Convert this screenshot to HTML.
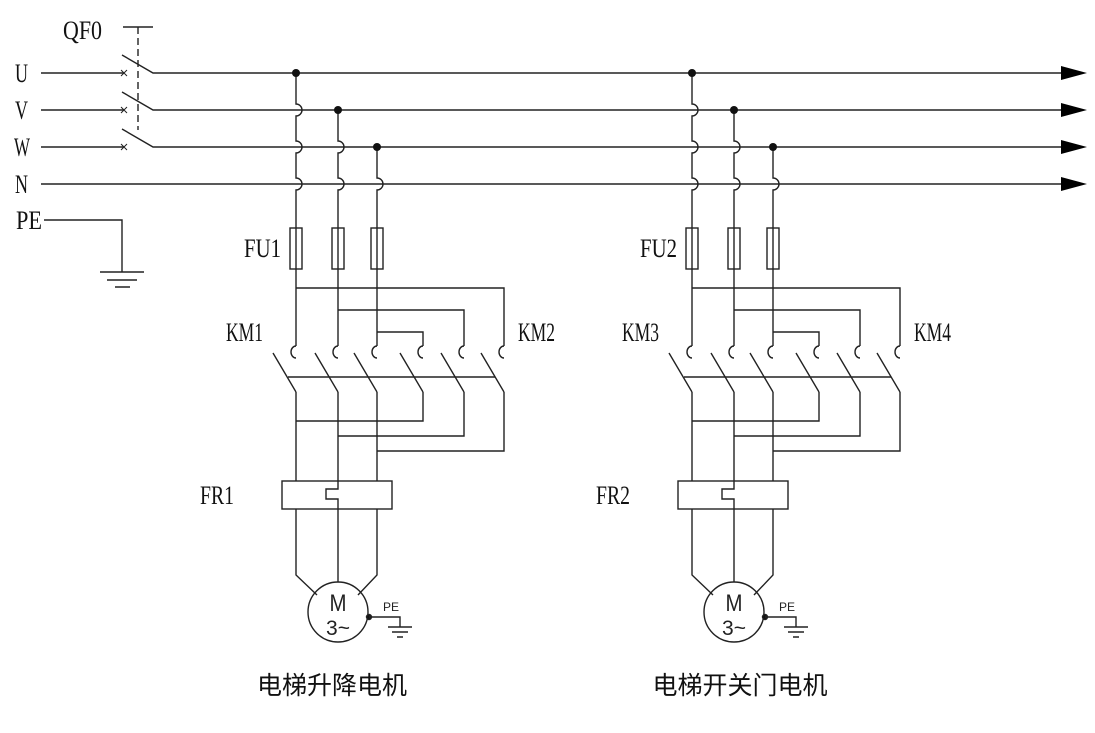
<!DOCTYPE html>
<html><head><meta charset="utf-8"><style>
html,body{margin:0;padding:0;background:#fff;}
svg{display:block;}
.lb{font-family:"Liberation Serif",serif;fill:#111;font-size:26px;}
.sf{font-family:"Liberation Sans",sans-serif;fill:#222;}
.cn{font-family:"Liberation Sans","Noto Sans CJK SC",sans-serif;fill:#111;}
</style></head><body>
<svg width="1095" height="733" viewBox="0 0 1095 733" xmlns="http://www.w3.org/2000/svg">
<defs>
<g id="branch" fill="none" stroke="#222" stroke-width="1.4">
  <path d="M296 73 V104 A6 6 0 0 1 296 116 V141 A6 6 0 0 1 296 153 V178 A6 6 0 0 1 296 190 V228"/>
  <path d="M338 110 V141 A6 6 0 0 1 338 153 V178 A6 6 0 0 1 338 190 V228"/>
  <path d="M377 147 V178 A6 6 0 0 1 377 190 V228"/>
  <rect x="290" y="228" width="12" height="41"/>
  <rect x="332" y="228" width="12" height="41"/>
  <rect x="371" y="228" width="12" height="41"/>
  <path d="M296 228 V269 M338 228 V269 M377 228 V269"/>
  <path d="M296 269 V346 M338 269 V346 M377 269 V346"/>
  <path d="M296 288 H504 V346 M338 310 H464 V346 M377 332 H423 V346"/>
  <path d="M296 346 A5 6 0 0 0 296 358 M338 346 A5 6 0 0 0 338 358 M377 346 A5 6 0 0 0 377 358 M423 346 A5 6 0 0 0 423 358 M464 346 A5 6 0 0 0 464 358 M504 346 A5 6 0 0 0 504 358"/>
  <path d="M273 353 L296 392 M315 353 L338 392 M354 353 L377 392 M400 353 L423 392 M441 353 L464 392 M481 353 L504 392"/>
  <path d="M288 377 H495"/>
  <path d="M296 392 V481 M338 392 V481 M377 392 V481 M423 392 V421 H296 M464 392 V436 H338 M504 392 V451 H377"/>
  <rect x="282" y="481" width="110" height="28"/>
  <path d="M338 481 V489 H326 V499 H338 V509"/>
  <path d="M296 509 V575 L317 595 M338 509 V582 M377 509 V575 L358 595"/>
  <circle cx="338" cy="612" r="30"/>
  <circle cx="369" cy="617" r="2.5" fill="#111"/>
  <path d="M369 617 H400 V627 M388 627 H412 M392 632 H408 M397 637 H403"/>
</g>
<g id="bdots" fill="#111">
  <circle cx="296" cy="73" r="4"/><circle cx="338" cy="110" r="4"/><circle cx="377" cy="147" r="4"/>
</g>
<g id="mtxt">
  <text class="sf" x="338" y="611" font-size="24" text-anchor="middle" transform="translate(338 0) scale(0.85 1) translate(-338 0)">M</text>
  <text class="sf" x="338" y="635" font-size="21" text-anchor="middle">3~</text>
  <text class="sf" x="383" y="611" font-size="12">PE</text>
</g>
</defs>
<g fill="none" stroke="#222" stroke-width="1.4">
  <path d="M41 73 H124 M41 110 H124 M41 147 H124 M41 184 H1062"/>
  <path d="M122 55 L153 73 H1062 M122 92 L153 110 H1062 M122 129 L153 147 H1062"/>
  <path d="M123 27 H153"/>
  <path d="M138 27 V130" stroke-dasharray="7,4"/>
  <path d="M121 70 L127 76 M127 70 L121 76 M121 107 L127 113 M127 107 L121 113 M121 144 L127 150 M127 144 L121 150" stroke-width="1"/>
  <path d="M44 220 H122 V272 M100 272 H144 M107 280 H137 M115 287 H130"/>
</g>
<g fill="#000">
  <path d="M1061 66 L1087 73 L1061 80Z M1061 103 L1087 110 L1061 117Z M1061 140 L1087 147 L1061 154Z M1061 177 L1087 184 L1061 191Z"/>
</g>
<use href="#branch"/><use href="#bdots"/><use href="#mtxt"/>
<use href="#branch" transform="translate(396,0)"/><use href="#bdots" transform="translate(396,0)"/><use href="#mtxt" transform="translate(396,0)"/>
<g class="lb">
  <text x="63" y="39" textLength="39" lengthAdjust="spacingAndGlyphs">QF0</text>
  <text x="15" y="82" textLength="13" lengthAdjust="spacingAndGlyphs">U</text>
  <text x="15" y="119" textLength="13" lengthAdjust="spacingAndGlyphs">V</text>
  <text x="14" y="156" textLength="16" lengthAdjust="spacingAndGlyphs">W</text>
  <text x="15" y="193" textLength="13" lengthAdjust="spacingAndGlyphs">N</text>
  <text x="16" y="229" textLength="26" lengthAdjust="spacingAndGlyphs">PE</text>
  <text x="244" y="257" textLength="37" lengthAdjust="spacingAndGlyphs">FU1</text>
  <text x="640" y="257" textLength="37" lengthAdjust="spacingAndGlyphs">FU2</text>
  <text x="226" y="341" textLength="37" lengthAdjust="spacingAndGlyphs">KM1</text>
  <text x="518" y="341" textLength="37" lengthAdjust="spacingAndGlyphs">KM2</text>
  <text x="622" y="341" textLength="37" lengthAdjust="spacingAndGlyphs">KM3</text>
  <text x="914" y="341" textLength="37" lengthAdjust="spacingAndGlyphs">KM4</text>
  <text x="200" y="504" textLength="34" lengthAdjust="spacingAndGlyphs">FR1</text>
  <text x="596" y="504" textLength="34" lengthAdjust="spacingAndGlyphs">FR2</text>
</g>
<text class="cn" x="332" y="694" font-size="25" text-anchor="middle">电梯升降电机</text>
<text class="cn" x="740" y="694" font-size="25" text-anchor="middle">电梯开关门电机</text>
</svg>
</body></html>
